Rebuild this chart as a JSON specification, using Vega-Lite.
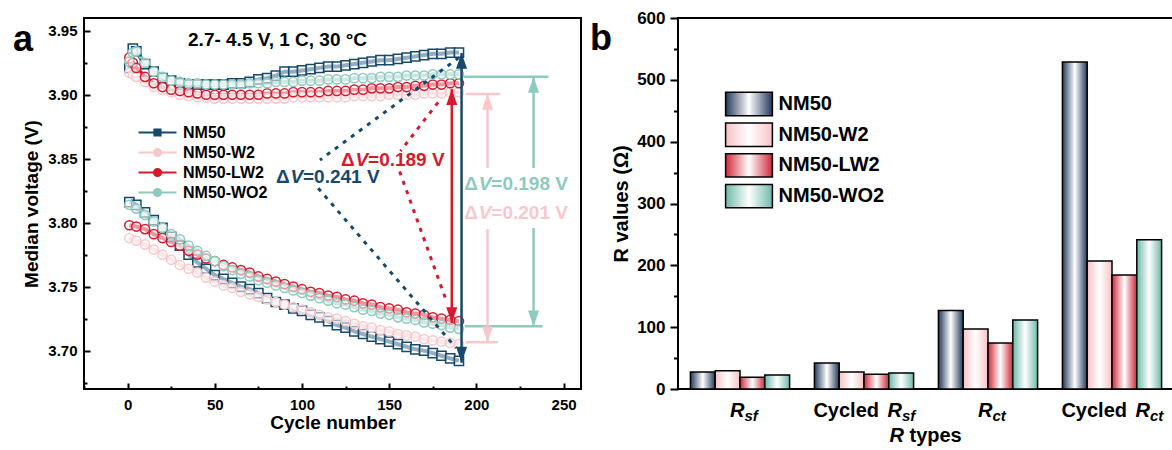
{
"$schema": "https://vega.github.io/schema/vega-lite/v6.json",
"padding": {"left": 11, "top": 8, "right": 0, "bottom": 0},
"bounds": "flush",
"spacing": 97,
"resolve": {"scale": {"fill": "independent", "stroke": "independent", "shape": "independent", "color": "independent"}, "legend": {"fill": "independent", "stroke": "independent", "shape": "independent"}},
"config": {
  "font": "Liberation Sans",
  "view": {"stroke": "black", "strokeWidth": 2},
  "axis": {"labelFontWeight": "bold", "titleFontWeight": "bold", "labelColor": "black", "titleColor": "black", "tickColor": "black", "grid": false, "domain": false},
  "legend": {"labelColor": "black"}
},
"datasets": {
"volt": [
{"s":"NM50","b":"u","c":1,"v":3.921},{"s":"NM50","b":"u","c":3,"v":3.936},{"s":"NM50","b":"u","c":5,"v":3.934},{"s":"NM50","b":"u","c":10,"v":3.924},{"s":"NM50","b":"u","c":15,"v":3.918},{"s":"NM50","b":"u","c":20,"v":3.913},{"s":"NM50","b":"u","c":25,"v":3.911},{"s":"NM50","b":"u","c":30,"v":3.909},{"s":"NM50","b":"u","c":35,"v":3.908},{"s":"NM50","b":"u","c":40,"v":3.908},{"s":"NM50","b":"u","c":45,"v":3.908},{"s":"NM50","b":"u","c":50,"v":3.908},{"s":"NM50","b":"u","c":55,"v":3.908},{"s":"NM50","b":"u","c":60,"v":3.909},{"s":"NM50","b":"u","c":65,"v":3.909},{"s":"NM50","b":"u","c":70,"v":3.910},{"s":"NM50","b":"u","c":75,"v":3.912},{"s":"NM50","b":"u","c":80,"v":3.913},{"s":"NM50","b":"u","c":85,"v":3.915},{"s":"NM50","b":"u","c":90,"v":3.918},{"s":"NM50","b":"u","c":95,"v":3.918},{"s":"NM50","b":"u","c":100,"v":3.919},{"s":"NM50","b":"u","c":105,"v":3.920},{"s":"NM50","b":"u","c":110,"v":3.921},{"s":"NM50","b":"u","c":115,"v":3.922},{"s":"NM50","b":"u","c":120,"v":3.922},{"s":"NM50","b":"u","c":125,"v":3.923},{"s":"NM50","b":"u","c":130,"v":3.924},{"s":"NM50","b":"u","c":135,"v":3.925},{"s":"NM50","b":"u","c":140,"v":3.926},{"s":"NM50","b":"u","c":145,"v":3.927},{"s":"NM50","b":"u","c":150,"v":3.927},{"s":"NM50","b":"u","c":155,"v":3.928},{"s":"NM50","b":"u","c":160,"v":3.929},{"s":"NM50","b":"u","c":165,"v":3.930},{"s":"NM50","b":"u","c":170,"v":3.931},{"s":"NM50","b":"u","c":175,"v":3.932},{"s":"NM50","b":"u","c":180,"v":3.932},{"s":"NM50","b":"u","c":185,"v":3.933},{"s":"NM50","b":"u","c":190,"v":3.933},
{"s":"NM50","b":"l","c":1,"v":3.816},{"s":"NM50","b":"l","c":5,"v":3.814},{"s":"NM50","b":"l","c":10,"v":3.808},{"s":"NM50","b":"l","c":15,"v":3.802},{"s":"NM50","b":"l","c":20,"v":3.796},{"s":"NM50","b":"l","c":25,"v":3.789},{"s":"NM50","b":"l","c":30,"v":3.782},{"s":"NM50","b":"l","c":35,"v":3.775},{"s":"NM50","b":"l","c":40,"v":3.769},{"s":"NM50","b":"l","c":45,"v":3.764},{"s":"NM50","b":"l","c":50,"v":3.759},{"s":"NM50","b":"l","c":55,"v":3.756},{"s":"NM50","b":"l","c":60,"v":3.753},{"s":"NM50","b":"l","c":65,"v":3.750},{"s":"NM50","b":"l","c":70,"v":3.748},{"s":"NM50","b":"l","c":75,"v":3.745},{"s":"NM50","b":"l","c":80,"v":3.741},{"s":"NM50","b":"l","c":85,"v":3.738},{"s":"NM50","b":"l","c":90,"v":3.736},{"s":"NM50","b":"l","c":95,"v":3.733},{"s":"NM50","b":"l","c":100,"v":3.731},{"s":"NM50","b":"l","c":105,"v":3.728},{"s":"NM50","b":"l","c":110,"v":3.726},{"s":"NM50","b":"l","c":115,"v":3.723},{"s":"NM50","b":"l","c":120,"v":3.720},{"s":"NM50","b":"l","c":125,"v":3.718},{"s":"NM50","b":"l","c":130,"v":3.715},{"s":"NM50","b":"l","c":135,"v":3.713},{"s":"NM50","b":"l","c":140,"v":3.711},{"s":"NM50","b":"l","c":145,"v":3.709},{"s":"NM50","b":"l","c":150,"v":3.707},{"s":"NM50","b":"l","c":155,"v":3.705},{"s":"NM50","b":"l","c":160,"v":3.703},{"s":"NM50","b":"l","c":165,"v":3.701},{"s":"NM50","b":"l","c":170,"v":3.700},{"s":"NM50","b":"l","c":175,"v":3.698},{"s":"NM50","b":"l","c":180,"v":3.696},{"s":"NM50","b":"l","c":185,"v":3.694},{"s":"NM50","b":"l","c":190,"v":3.692},
{"s":"NM50-W2","b":"u","c":1,"v":3.917},{"s":"NM50-W2","b":"u","c":3,"v":3.916},{"s":"NM50-W2","b":"u","c":5,"v":3.914},{"s":"NM50-W2","b":"u","c":10,"v":3.910},{"s":"NM50-W2","b":"u","c":15,"v":3.906},{"s":"NM50-W2","b":"u","c":20,"v":3.904},{"s":"NM50-W2","b":"u","c":25,"v":3.902},{"s":"NM50-W2","b":"u","c":30,"v":3.900},{"s":"NM50-W2","b":"u","c":35,"v":3.899},{"s":"NM50-W2","b":"u","c":40,"v":3.898},{"s":"NM50-W2","b":"u","c":45,"v":3.898},{"s":"NM50-W2","b":"u","c":50,"v":3.897},{"s":"NM50-W2","b":"u","c":55,"v":3.897},{"s":"NM50-W2","b":"u","c":60,"v":3.897},{"s":"NM50-W2","b":"u","c":65,"v":3.897},{"s":"NM50-W2","b":"u","c":70,"v":3.897},{"s":"NM50-W2","b":"u","c":75,"v":3.897},{"s":"NM50-W2","b":"u","c":80,"v":3.897},{"s":"NM50-W2","b":"u","c":85,"v":3.897},{"s":"NM50-W2","b":"u","c":90,"v":3.897},{"s":"NM50-W2","b":"u","c":95,"v":3.898},{"s":"NM50-W2","b":"u","c":100,"v":3.898},{"s":"NM50-W2","b":"u","c":105,"v":3.898},{"s":"NM50-W2","b":"u","c":110,"v":3.898},{"s":"NM50-W2","b":"u","c":115,"v":3.898},{"s":"NM50-W2","b":"u","c":120,"v":3.898},{"s":"NM50-W2","b":"u","c":125,"v":3.898},{"s":"NM50-W2","b":"u","c":130,"v":3.899},{"s":"NM50-W2","b":"u","c":135,"v":3.899},{"s":"NM50-W2","b":"u","c":140,"v":3.899},{"s":"NM50-W2","b":"u","c":145,"v":3.899},{"s":"NM50-W2","b":"u","c":150,"v":3.900},{"s":"NM50-W2","b":"u","c":155,"v":3.900},{"s":"NM50-W2","b":"u","c":160,"v":3.900},{"s":"NM50-W2","b":"u","c":165,"v":3.900},{"s":"NM50-W2","b":"u","c":170,"v":3.901},{"s":"NM50-W2","b":"u","c":175,"v":3.901},{"s":"NM50-W2","b":"u","c":180,"v":3.901},{"s":"NM50-W2","b":"u","c":185,"v":3.902},{"s":"NM50-W2","b":"u","c":190,"v":3.902},
{"s":"NM50-W2","b":"l","c":1,"v":3.788},{"s":"NM50-W2","b":"l","c":5,"v":3.786},{"s":"NM50-W2","b":"l","c":10,"v":3.783},{"s":"NM50-W2","b":"l","c":15,"v":3.779},{"s":"NM50-W2","b":"l","c":20,"v":3.775},{"s":"NM50-W2","b":"l","c":25,"v":3.771},{"s":"NM50-W2","b":"l","c":30,"v":3.767},{"s":"NM50-W2","b":"l","c":35,"v":3.764},{"s":"NM50-W2","b":"l","c":40,"v":3.761},{"s":"NM50-W2","b":"l","c":45,"v":3.757},{"s":"NM50-W2","b":"l","c":50,"v":3.754},{"s":"NM50-W2","b":"l","c":55,"v":3.751},{"s":"NM50-W2","b":"l","c":60,"v":3.749},{"s":"NM50-W2","b":"l","c":65,"v":3.746},{"s":"NM50-W2","b":"l","c":70,"v":3.744},{"s":"NM50-W2","b":"l","c":75,"v":3.742},{"s":"NM50-W2","b":"l","c":80,"v":3.740},{"s":"NM50-W2","b":"l","c":85,"v":3.738},{"s":"NM50-W2","b":"l","c":90,"v":3.736},{"s":"NM50-W2","b":"l","c":95,"v":3.734},{"s":"NM50-W2","b":"l","c":100,"v":3.732},{"s":"NM50-W2","b":"l","c":105,"v":3.730},{"s":"NM50-W2","b":"l","c":110,"v":3.728},{"s":"NM50-W2","b":"l","c":115,"v":3.726},{"s":"NM50-W2","b":"l","c":120,"v":3.725},{"s":"NM50-W2","b":"l","c":125,"v":3.723},{"s":"NM50-W2","b":"l","c":130,"v":3.721},{"s":"NM50-W2","b":"l","c":135,"v":3.719},{"s":"NM50-W2","b":"l","c":140,"v":3.718},{"s":"NM50-W2","b":"l","c":145,"v":3.716},{"s":"NM50-W2","b":"l","c":150,"v":3.715},{"s":"NM50-W2","b":"l","c":155,"v":3.713},{"s":"NM50-W2","b":"l","c":160,"v":3.712},{"s":"NM50-W2","b":"l","c":165,"v":3.711},{"s":"NM50-W2","b":"l","c":170,"v":3.709},{"s":"NM50-W2","b":"l","c":175,"v":3.708},{"s":"NM50-W2","b":"l","c":180,"v":3.707},{"s":"NM50-W2","b":"l","c":185,"v":3.706},{"s":"NM50-W2","b":"l","c":190,"v":3.705},
{"s":"NM50-LW2","b":"u","c":1,"v":3.929},{"s":"NM50-LW2","b":"u","c":3,"v":3.925},{"s":"NM50-LW2","b":"u","c":5,"v":3.921},{"s":"NM50-LW2","b":"u","c":10,"v":3.914},{"s":"NM50-LW2","b":"u","c":15,"v":3.909},{"s":"NM50-LW2","b":"u","c":20,"v":3.906},{"s":"NM50-LW2","b":"u","c":25,"v":3.904},{"s":"NM50-LW2","b":"u","c":30,"v":3.903},{"s":"NM50-LW2","b":"u","c":35,"v":3.902},{"s":"NM50-LW2","b":"u","c":40,"v":3.901},{"s":"NM50-LW2","b":"u","c":45,"v":3.900},{"s":"NM50-LW2","b":"u","c":50,"v":3.900},{"s":"NM50-LW2","b":"u","c":55,"v":3.900},{"s":"NM50-LW2","b":"u","c":60,"v":3.900},{"s":"NM50-LW2","b":"u","c":65,"v":3.900},{"s":"NM50-LW2","b":"u","c":70,"v":3.900},{"s":"NM50-LW2","b":"u","c":75,"v":3.900},{"s":"NM50-LW2","b":"u","c":80,"v":3.901},{"s":"NM50-LW2","b":"u","c":85,"v":3.901},{"s":"NM50-LW2","b":"u","c":90,"v":3.901},{"s":"NM50-LW2","b":"u","c":95,"v":3.902},{"s":"NM50-LW2","b":"u","c":100,"v":3.902},{"s":"NM50-LW2","b":"u","c":105,"v":3.902},{"s":"NM50-LW2","b":"u","c":110,"v":3.902},{"s":"NM50-LW2","b":"u","c":115,"v":3.903},{"s":"NM50-LW2","b":"u","c":120,"v":3.903},{"s":"NM50-LW2","b":"u","c":125,"v":3.903},{"s":"NM50-LW2","b":"u","c":130,"v":3.904},{"s":"NM50-LW2","b":"u","c":135,"v":3.904},{"s":"NM50-LW2","b":"u","c":140,"v":3.905},{"s":"NM50-LW2","b":"u","c":145,"v":3.905},{"s":"NM50-LW2","b":"u","c":150,"v":3.905},{"s":"NM50-LW2","b":"u","c":155,"v":3.906},{"s":"NM50-LW2","b":"u","c":160,"v":3.906},{"s":"NM50-LW2","b":"u","c":165,"v":3.907},{"s":"NM50-LW2","b":"u","c":170,"v":3.907},{"s":"NM50-LW2","b":"u","c":175,"v":3.908},{"s":"NM50-LW2","b":"u","c":180,"v":3.908},{"s":"NM50-LW2","b":"u","c":185,"v":3.909},{"s":"NM50-LW2","b":"u","c":190,"v":3.909},
{"s":"NM50-LW2","b":"l","c":1,"v":3.798},{"s":"NM50-LW2","b":"l","c":5,"v":3.797},{"s":"NM50-LW2","b":"l","c":10,"v":3.795},{"s":"NM50-LW2","b":"l","c":15,"v":3.791},{"s":"NM50-LW2","b":"l","c":20,"v":3.788},{"s":"NM50-LW2","b":"l","c":25,"v":3.785},{"s":"NM50-LW2","b":"l","c":30,"v":3.782},{"s":"NM50-LW2","b":"l","c":35,"v":3.778},{"s":"NM50-LW2","b":"l","c":40,"v":3.775},{"s":"NM50-LW2","b":"l","c":45,"v":3.772},{"s":"NM50-LW2","b":"l","c":50,"v":3.770},{"s":"NM50-LW2","b":"l","c":55,"v":3.767},{"s":"NM50-LW2","b":"l","c":60,"v":3.765},{"s":"NM50-LW2","b":"l","c":65,"v":3.763},{"s":"NM50-LW2","b":"l","c":70,"v":3.761},{"s":"NM50-LW2","b":"l","c":75,"v":3.758},{"s":"NM50-LW2","b":"l","c":80,"v":3.756},{"s":"NM50-LW2","b":"l","c":85,"v":3.754},{"s":"NM50-LW2","b":"l","c":90,"v":3.752},{"s":"NM50-LW2","b":"l","c":95,"v":3.750},{"s":"NM50-LW2","b":"l","c":100,"v":3.748},{"s":"NM50-LW2","b":"l","c":105,"v":3.746},{"s":"NM50-LW2","b":"l","c":110,"v":3.745},{"s":"NM50-LW2","b":"l","c":115,"v":3.743},{"s":"NM50-LW2","b":"l","c":120,"v":3.742},{"s":"NM50-LW2","b":"l","c":125,"v":3.740},{"s":"NM50-LW2","b":"l","c":130,"v":3.739},{"s":"NM50-LW2","b":"l","c":135,"v":3.737},{"s":"NM50-LW2","b":"l","c":140,"v":3.736},{"s":"NM50-LW2","b":"l","c":145,"v":3.734},{"s":"NM50-LW2","b":"l","c":150,"v":3.733},{"s":"NM50-LW2","b":"l","c":155,"v":3.732},{"s":"NM50-LW2","b":"l","c":160,"v":3.730},{"s":"NM50-LW2","b":"l","c":165,"v":3.729},{"s":"NM50-LW2","b":"l","c":170,"v":3.728},{"s":"NM50-LW2","b":"l","c":175,"v":3.726},{"s":"NM50-LW2","b":"l","c":180,"v":3.725},{"s":"NM50-LW2","b":"l","c":185,"v":3.724},{"s":"NM50-LW2","b":"l","c":190,"v":3.723},
{"s":"NM50-WO2","b":"u","c":1,"v":3.926},{"s":"NM50-WO2","b":"u","c":3,"v":3.933},{"s":"NM50-WO2","b":"u","c":5,"v":3.934},{"s":"NM50-WO2","b":"u","c":10,"v":3.925},{"s":"NM50-WO2","b":"u","c":15,"v":3.918},{"s":"NM50-WO2","b":"u","c":20,"v":3.914},{"s":"NM50-WO2","b":"u","c":25,"v":3.911},{"s":"NM50-WO2","b":"u","c":30,"v":3.910},{"s":"NM50-WO2","b":"u","c":35,"v":3.909},{"s":"NM50-WO2","b":"u","c":40,"v":3.909},{"s":"NM50-WO2","b":"u","c":45,"v":3.908},{"s":"NM50-WO2","b":"u","c":50,"v":3.908},{"s":"NM50-WO2","b":"u","c":55,"v":3.908},{"s":"NM50-WO2","b":"u","c":60,"v":3.908},{"s":"NM50-WO2","b":"u","c":65,"v":3.908},{"s":"NM50-WO2","b":"u","c":70,"v":3.909},{"s":"NM50-WO2","b":"u","c":75,"v":3.909},{"s":"NM50-WO2","b":"u","c":80,"v":3.909},{"s":"NM50-WO2","b":"u","c":85,"v":3.910},{"s":"NM50-WO2","b":"u","c":90,"v":3.910},{"s":"NM50-WO2","b":"u","c":95,"v":3.910},{"s":"NM50-WO2","b":"u","c":100,"v":3.911},{"s":"NM50-WO2","b":"u","c":105,"v":3.911},{"s":"NM50-WO2","b":"u","c":110,"v":3.911},{"s":"NM50-WO2","b":"u","c":115,"v":3.912},{"s":"NM50-WO2","b":"u","c":120,"v":3.912},{"s":"NM50-WO2","b":"u","c":125,"v":3.912},{"s":"NM50-WO2","b":"u","c":130,"v":3.913},{"s":"NM50-WO2","b":"u","c":135,"v":3.913},{"s":"NM50-WO2","b":"u","c":140,"v":3.913},{"s":"NM50-WO2","b":"u","c":145,"v":3.914},{"s":"NM50-WO2","b":"u","c":150,"v":3.914},{"s":"NM50-WO2","b":"u","c":155,"v":3.914},{"s":"NM50-WO2","b":"u","c":160,"v":3.915},{"s":"NM50-WO2","b":"u","c":165,"v":3.915},{"s":"NM50-WO2","b":"u","c":170,"v":3.915},{"s":"NM50-WO2","b":"u","c":175,"v":3.916},{"s":"NM50-WO2","b":"u","c":180,"v":3.916},{"s":"NM50-WO2","b":"u","c":185,"v":3.916},{"s":"NM50-WO2","b":"u","c":190,"v":3.916},
{"s":"NM50-WO2","b":"l","c":1,"v":3.814},{"s":"NM50-WO2","b":"l","c":5,"v":3.811},{"s":"NM50-WO2","b":"l","c":10,"v":3.806},{"s":"NM50-WO2","b":"l","c":15,"v":3.801},{"s":"NM50-WO2","b":"l","c":20,"v":3.796},{"s":"NM50-WO2","b":"l","c":25,"v":3.791},{"s":"NM50-WO2","b":"l","c":30,"v":3.787},{"s":"NM50-WO2","b":"l","c":35,"v":3.782},{"s":"NM50-WO2","b":"l","c":40,"v":3.778},{"s":"NM50-WO2","b":"l","c":45,"v":3.774},{"s":"NM50-WO2","b":"l","c":50,"v":3.770},{"s":"NM50-WO2","b":"l","c":55,"v":3.766},{"s":"NM50-WO2","b":"l","c":60,"v":3.763},{"s":"NM50-WO2","b":"l","c":65,"v":3.760},{"s":"NM50-WO2","b":"l","c":70,"v":3.758},{"s":"NM50-WO2","b":"l","c":75,"v":3.755},{"s":"NM50-WO2","b":"l","c":80,"v":3.753},{"s":"NM50-WO2","b":"l","c":85,"v":3.751},{"s":"NM50-WO2","b":"l","c":90,"v":3.749},{"s":"NM50-WO2","b":"l","c":95,"v":3.747},{"s":"NM50-WO2","b":"l","c":100,"v":3.745},{"s":"NM50-WO2","b":"l","c":105,"v":3.743},{"s":"NM50-WO2","b":"l","c":110,"v":3.741},{"s":"NM50-WO2","b":"l","c":115,"v":3.739},{"s":"NM50-WO2","b":"l","c":120,"v":3.737},{"s":"NM50-WO2","b":"l","c":125,"v":3.736},{"s":"NM50-WO2","b":"l","c":130,"v":3.734},{"s":"NM50-WO2","b":"l","c":135,"v":3.732},{"s":"NM50-WO2","b":"l","c":140,"v":3.731},{"s":"NM50-WO2","b":"l","c":145,"v":3.729},{"s":"NM50-WO2","b":"l","c":150,"v":3.728},{"s":"NM50-WO2","b":"l","c":155,"v":3.726},{"s":"NM50-WO2","b":"l","c":160,"v":3.725},{"s":"NM50-WO2","b":"l","c":165,"v":3.724},{"s":"NM50-WO2","b":"l","c":170,"v":3.722},{"s":"NM50-WO2","b":"l","c":175,"v":3.721},{"s":"NM50-WO2","b":"l","c":180,"v":3.720},{"s":"NM50-WO2","b":"l","c":185,"v":3.718},{"s":"NM50-WO2","b":"l","c":190,"v":3.717}
],
"dots": [
{"s":"NM50","c":190,"v":3.929,"c2":110.3,"v2":3.849},
{"s":"NM50","c":109.3,"v":3.827,"c2":188.4,"v2":3.702},
{"s":"NM50-LW2","c":178,"v":3.894,"c2":156.5,"v2":3.856},
{"s":"NM50-LW2","c":156,"v":3.840,"c2":182.5,"v2":3.740}
],
"rules": [
{"s":"NM50-LW2","c":185.9,"v":3.9044,"c2":185.9,"v2":3.7216},
{"s":"NM50","c":191.5,"v":3.9326,"c2":191.5,"v2":3.6906},
{"s":"NM50-WO2","c":192.7,"v":3.914,"c2":241.3,"v2":3.914},
{"s":"NM50-WO2","c":193.3,"v":3.719,"c2":238,"v2":3.719},
{"s":"NM50-WO2","c":232.8,"v":3.914,"c2":232.8,"v2":3.8427},
{"s":"NM50-WO2","c":232.8,"v":3.7959,"c2":232.8,"v2":3.719},
{"s":"NM50-W2","c":193.8,"v":3.9006,"c2":213.5,"v2":3.9006},
{"s":"NM50-W2","c":193.8,"v":3.7065,"c2":212.4,"v2":3.7065},
{"s":"NM50-W2","c":206.4,"v":3.9006,"c2":206.4,"v2":3.8427},
{"s":"NM50-W2","c":206.4,"v":3.795,"c2":206.4,"v2":3.7065}
],
"heads": [
{"s":"NM50-LW2","c":185.9,"v":3.9044,"d":"up"},{"s":"NM50-LW2","c":185.9,"v":3.7216,"d":"down"},
{"s":"NM50","c":191.5,"v":3.9326,"d":"up"},{"s":"NM50","c":191.5,"v":3.6906,"d":"down"},
{"s":"NM50-WO2","c":232.8,"v":3.914,"d":"up"},{"s":"NM50-WO2","c":232.8,"v":3.719,"d":"down"},
{"s":"NM50-W2","c":206.4,"v":3.9006,"d":"up"},{"s":"NM50-W2","c":206.4,"v":3.7065,"d":"down"}
],
"dv": [
{"s":"NM50","c":85.1,"v":3.8313,"t":"=0.241 V"},
{"s":"NM50-LW2","c":122.4,"v":3.844,"t":"=0.189 V"},
{"s":"NM50-WO2","c":193.1,"v":3.8252,"t":"=0.198 V"},
{"s":"NM50-W2","c":193.1,"v":3.8029,"t":"=0.201 V"}
],
"bars": [
{"t":"Rsf","s":"NM50","r":27.5},{"t":"Rsf","s":"NM50-W2","r":29.6},{"t":"Rsf","s":"NM50-LW2","r":18.9},{"t":"Rsf","s":"NM50-WO2","r":22.6},
{"t":"cRsf","s":"NM50","r":42},{"t":"cRsf","s":"NM50-W2","r":27.5},{"t":"cRsf","s":"NM50-LW2","r":23.7},{"t":"cRsf","s":"NM50-WO2","r":25.9},
{"t":"Rct","s":"NM50","r":127},{"t":"Rct","s":"NM50-W2","r":97},{"t":"Rct","s":"NM50-LW2","r":74.4},{"t":"Rct","s":"NM50-WO2","r":111.6},
{"t":"cRct","s":"NM50","r":528.8},{"t":"cRct","s":"NM50-W2","r":207},{"t":"cRct","s":"NM50-LW2","r":184.4},{"t":"cRct","s":"NM50-WO2","r":241.5}
],
"labs": [
{"t":"Rsf","pre":"","sub":"sf"},{"t":"cRsf","pre":"Cycled","sub":"sf"},{"t":"Rct","pre":"","sub":"ct"},{"t":"cRct","pre":"Cycled","sub":"ct"}
]
},
"hconcat": [
{
"width": 497, "height": 371,
"resolve": {"scale": {"shape": "independent"}, "axis": {"x": "independent", "y": "independent"}},
"layer": [
{"data": {"name": "volt"}, "mark": {"type": "line", "strokeWidth": 4},
 "encoding": {
  "x": {"field": "c", "type": "quantitative", "scale": {"domain": [-25, 260], "nice": false, "zero": false},
        "axis": {"orient": "bottom", "values": [0, 50, 100, 150, 200, 250], "tickSize": -6, "tickWidth": 2, "labelPadding": 14, "labelFontSize": 15, "title": "Cycle number", "titleFontSize": 19, "titlePadding": 1}},
  "y": {"field": "v", "type": "quantitative", "scale": {"domain": [3.67, 3.96], "nice": false, "zero": false},
        "axis": {"orient": "left", "values": [3.7, 3.75, 3.8, 3.85, 3.9, 3.95], "format": ".2f", "tickSize": -6, "tickWidth": 2, "labelPadding": 13, "labelFontSize": 15, "title": "Median voltage (V)", "titleFontSize": 19, "titlePadding": 6}},
  "stroke": {"field": "s", "type": "nominal", "scale": {"domain": ["NM50", "NM50-W2", "NM50-LW2", "NM50-WO2"], "range": ["#16496e", "#f8c8cb", "#d7192d", "#8ecabd"]},
    "legend": {"orient": "none", "legendX": 62, "legendY": 103, "title": null, "symbolSize": 400, "labelFontSize": 16, "labelFontWeight": "bold", "labelOffset": 14, "rowPadding": 0, "padding": 0,
      "encode": {"symbols": {"update": {"shape": {"signal": "datum.value === 'NM50' ? 'M-1.9,0H1.9M-0.3,-0.3H0.3V0.3H-0.3Z' : 'M-1.9,0H1.9M-0.35,0A0.35,0.35,0,1,1,0.35,0A0.35,0.35,0,1,1,-0.35,0Z'"}, "fill": {"value": "white"}, "strokeWidth": {"value": 2.2}, "opacity": {"value": 1}}}}}},
  "detail": {"field": "b"}
 }},
{"data": {"name": "volt"}, "mark": {"type": "point", "filled": true, "fill": "white", "fillOpacity": 0.55, "strokeWidth": 1.5, "size": 85, "opacity": 1},
 "encoding": {
  "x": {"field": "c", "type": "quantitative", "scale": {"domain": [-25, 260], "nice": false, "zero": false},
        "axis": {"orient": "bottom", "values": [-25, 25, 75, 125, 175, 225], "tickSize": -3, "tickWidth": 2, "labels": false, "title": null}},
  "y": {"field": "v", "type": "quantitative", "scale": {"domain": [3.67, 3.96], "nice": false, "zero": false},
        "axis": {"orient": "left", "values": [3.675, 3.725, 3.775, 3.825, 3.875, 3.925], "tickSize": -3, "tickWidth": 2, "labels": false, "title": null}},
  "stroke": {"field": "s", "type": "nominal", "scale": {"domain": ["NM50", "NM50-W2", "NM50-LW2", "NM50-WO2"], "range": ["#16496e", "#f8c8cb", "#d7192d", "#8ecabd"]}},
  "shape": {"field": "s", "type": "nominal", "scale": {"domain": ["NM50", "NM50-W2", "NM50-LW2", "NM50-WO2"], "range": ["square", "circle", "circle", "circle"]}, "legend": null}
 }},
{"data": {"name": "dots"}, "mark": {"type": "rule", "strokeDash": [4, 6], "strokeWidth": 3},
 "encoding": {
  "x": {"field": "c", "type": "quantitative", "scale": {"domain": [-25, 260], "nice": false, "zero": false}, "axis": null},
  "y": {"field": "v", "type": "quantitative", "scale": {"domain": [3.67, 3.96], "nice": false, "zero": false}, "axis": null},
  "x2": {"field": "c2"}, "y2": {"field": "v2"},
  "stroke": {"field": "s", "type": "nominal", "scale": {"domain": ["NM50", "NM50-W2", "NM50-LW2", "NM50-WO2"], "range": ["#16496e", "#f8c8cb", "#d7192d", "#8ecabd"]}, "legend": null}
 }},
{"data": {"name": "rules"}, "mark": {"type": "rule", "strokeWidth": 2.5},
 "encoding": {
  "x": {"field": "c", "type": "quantitative", "scale": {"domain": [-25, 260], "nice": false, "zero": false}, "axis": null},
  "y": {"field": "v", "type": "quantitative", "scale": {"domain": [3.67, 3.96], "nice": false, "zero": false}, "axis": null},
  "x2": {"field": "c2"}, "y2": {"field": "v2"},
  "stroke": {"field": "s", "type": "nominal", "scale": {"domain": ["NM50", "NM50-W2", "NM50-LW2", "NM50-WO2"], "range": ["#16496e", "#f8c8cb", "#d7192d", "#8ecabd"]}, "legend": null}
 }},
{"data": {"name": "heads"}, "mark": {"type": "point", "filled": true, "opacity": 1, "size": 1000, "strokeWidth": 0},
 "encoding": {
  "x": {"field": "c", "type": "quantitative", "scale": {"domain": [-25, 260], "nice": false, "zero": false}, "axis": null},
  "y": {"field": "v", "type": "quantitative", "scale": {"domain": [3.67, 3.96], "nice": false, "zero": false}, "axis": null},
  "fill": {"field": "s", "type": "nominal", "scale": {"domain": ["NM50", "NM50-W2", "NM50-LW2", "NM50-WO2"], "range": ["#16496e", "#f8c8cb", "#d7192d", "#8ecabd"]}, "legend": null},
  "shape": {"field": "d", "type": "nominal", "scale": {"domain": ["up", "down"], "range": ["M0,0L-0.35,1L0.35,1Z", "M0,0L-0.35,-1L0.35,-1Z"]}, "legend": null}
 }},
{"data": {"name": "dv"}, "mark": {"type": "text", "align": "left", "baseline": "alphabetic", "fontSize": 19, "fontWeight": "bold"},
 "encoding": {
  "x": {"field": "c", "type": "quantitative", "scale": {"domain": [-25, 260], "nice": false, "zero": false}, "axis": null},
  "y": {"field": "v", "type": "quantitative", "scale": {"domain": [3.67, 3.96], "nice": false, "zero": false}, "axis": null},
  "fill": {"field": "s", "type": "nominal", "scale": {"domain": ["NM50", "NM50-W2", "NM50-LW2", "NM50-WO2"], "range": ["#16496e", "#f8c8cb", "#d7192d", "#8ecabd"]}, "legend": null},
  "text": {"value": "Δ"}
 }},
{"data": {"name": "dv"}, "mark": {"type": "text", "align": "left", "baseline": "alphabetic", "fontSize": 19, "fontWeight": "bold", "fontStyle": "italic", "dx": 14.5},
 "encoding": {
  "x": {"field": "c", "type": "quantitative", "scale": {"domain": [-25, 260], "nice": false, "zero": false}, "axis": null},
  "y": {"field": "v", "type": "quantitative", "scale": {"domain": [3.67, 3.96], "nice": false, "zero": false}, "axis": null},
  "fill": {"field": "s", "type": "nominal", "scale": {"domain": ["NM50", "NM50-W2", "NM50-LW2", "NM50-WO2"], "range": ["#16496e", "#f8c8cb", "#d7192d", "#8ecabd"]}, "legend": null},
  "text": {"value": "V"}
 }},
{"data": {"name": "dv"}, "mark": {"type": "text", "align": "left", "baseline": "alphabetic", "fontSize": 19, "fontWeight": "bold", "dx": 27},
 "encoding": {
  "x": {"field": "c", "type": "quantitative", "scale": {"domain": [-25, 260], "nice": false, "zero": false}, "axis": null},
  "y": {"field": "v", "type": "quantitative", "scale": {"domain": [3.67, 3.96], "nice": false, "zero": false}, "axis": null},
  "fill": {"field": "s", "type": "nominal", "scale": {"domain": ["NM50", "NM50-W2", "NM50-LW2", "NM50-WO2"], "range": ["#16496e", "#f8c8cb", "#d7192d", "#8ecabd"]}, "legend": null},
  "text": {"field": "t"}
 }},
{"data": {"values": [{}]}, "mark": {"type": "text", "align": "center", "baseline": "alphabetic", "fontSize": 19, "fontWeight": "bold", "color": "black"},
 "encoding": {
  "x": {"datum": 86, "type": "quantitative", "scale": {"domain": [-25, 260], "nice": false, "zero": false}, "axis": null},
  "y": {"datum": 3.938, "type": "quantitative", "scale": {"domain": [3.67, 3.96], "nice": false, "zero": false}, "axis": null},
  "text": {"value": "2.7- 4.5 V, 1 C, 30 °C"}
 }},
{"data": {"values": [{}]}, "mark": {"type": "text", "align": "center", "baseline": "alphabetic", "fontSize": 36, "fontWeight": "bold", "color": "black"},
 "encoding": {
  "x": {"datum": -60, "type": "quantitative", "scale": {"domain": [-25, 260], "nice": false, "zero": false}, "axis": null},
  "y": {"datum": 3.934, "type": "quantitative", "scale": {"domain": [3.67, 3.96], "nice": false, "zero": false}, "axis": null},
  "text": {"value": "a"}
 }}
]
},
{
"width": 496, "height": 371,
"resolve": {"axis": {"y": "independent"}},
"layer": [
{"data": {"name": "bars"},
 "mark": {"type": "bar", "stroke": "black", "strokeWidth": 1.5},
 "encoding": {
  "x": {"field": "t", "type": "nominal", "scale": {"domain": ["Rsf", "cRsf", "Rct", "cRct"], "paddingInner": 0.2, "paddingOuter": 0.1},
        "axis": {"orient": "bottom", "labels": false, "title": null, "tickSize": 8, "tickWidth": 2}},
  "xOffset": {"field": "s", "type": "nominal", "scale": {"domain": ["NM50", "NM50-W2", "NM50-LW2", "NM50-WO2"], "paddingInner": 0, "paddingOuter": 0}},
  "y": {"field": "r", "type": "quantitative", "scale": {"domain": [0, 600], "nice": false},
        "axis": {"orient": "left", "values": [0, 100, 200, 300, 400, 500, 600], "tickSize": 8, "tickWidth": 2, "labelPadding": 5, "labelFontSize": 17, "title": "R values (Ω)", "titleFontSize": 20, "titlePadding": 5}},
  "fill": {"field": "s", "type": "nominal", "scale": {"domain": ["NM50", "NM50-W2", "NM50-LW2", "NM50-WO2"], "range": [
      {"expr": "{id: 'gradNM50', gradient: 'linear', x1: 0, y1: 0, x2: 1, y2: 0, stops: [{offset: 0, color: '#22385a'}, {offset: 0.5, color: '#ffffff'}, {offset: 1, color: '#22385a'}]}"},
      {"expr": "{id: 'gradW2', gradient: 'linear', x1: 0, y1: 0, x2: 1, y2: 0, stops: [{offset: 0, color: '#f6c3c6'}, {offset: 0.5, color: '#ffffff'}, {offset: 1, color: '#f6c3c6'}]}"},
      {"expr": "{id: 'gradLW2', gradient: 'linear', x1: 0, y1: 0, x2: 1, y2: 0, stops: [{offset: 0, color: '#d0283a'}, {offset: 0.5, color: '#ffffff'}, {offset: 1, color: '#d0283a'}]}"},
      {"expr": "{id: 'gradWO2', gradient: 'linear', x1: 0, y1: 0, x2: 1, y2: 0, stops: [{offset: 0, color: '#6fb9ab'}, {offset: 0.5, color: '#ffffff'}, {offset: 1, color: '#6fb9ab'}]}"}
    ]},
    "legend": {"orient": "none", "legendX": 57, "legendY": 72, "title": null, "symbolSize": 676, "symbolType": "M-1.8,-0.9H1.8V0.9H-1.8Z", "symbolStrokeColor": "black", "symbolStrokeWidth": 1.5, "symbolOpacity": 1, "labelFontSize": 20, "labelFontWeight": "bold", "labelOffset": 15.6, "rowPadding": 0.7, "padding": 0}}
 }},
{"data": {"name": "labs"}, "transform": [{"filter": "datum.pre !== ''"}], "mark": {"type": "text", "align": "right", "baseline": "alphabetic", "fontSize": 20, "fontWeight": "bold", "dx": 15, "color": "black"},
 "encoding": {
  "x": {"field": "t", "type": "nominal", "scale": {"domain": ["Rsf", "cRsf", "Rct", "cRct"], "paddingInner": 0.2, "paddingOuter": 0.1}, "axis": null},
  "y": {"datum": -45, "type": "quantitative", "scale": {"domain": [0, 600], "nice": false},
        "axis": {"orient": "left", "values": [50, 150, 250, 350, 450, 550], "tickSize": 4.5, "tickWidth": 2, "labels": false, "title": null}},
  "text": {"field": "pre"}
 }},
{"data": {"name": "labs"}, "transform": [{"filter": "datum.pre !== ''"}], "mark": {"type": "text", "align": "left", "baseline": "alphabetic", "fontSize": 20, "fontWeight": "bold", "fontStyle": "italic", "dx": 23.5, "color": "black"},
 "encoding": {
  "x": {"field": "t", "type": "nominal", "scale": {"domain": ["Rsf", "cRsf", "Rct", "cRct"], "paddingInner": 0.2, "paddingOuter": 0.1}, "axis": null},
  "y": {"datum": -45, "type": "quantitative", "scale": {"domain": [0, 600], "nice": false}, "axis": null},
  "text": {"value": "R"}
 }},
{"data": {"name": "labs"}, "transform": [{"filter": "datum.pre !== ''"}], "mark": {"type": "text", "align": "left", "baseline": "alphabetic", "fontSize": 15, "fontWeight": "bold", "fontStyle": "italic", "dx": 38, "dy": 4, "color": "black"},
 "encoding": {
  "x": {"field": "t", "type": "nominal", "scale": {"domain": ["Rsf", "cRsf", "Rct", "cRct"], "paddingInner": 0.2, "paddingOuter": 0.1}, "axis": null},
  "y": {"datum": -45, "type": "quantitative", "scale": {"domain": [0, 600], "nice": false}, "axis": null},
  "text": {"field": "sub"}
 }},
{"data": {"name": "labs"}, "transform": [{"filter": "datum.pre === ''"}], "mark": {"type": "text", "align": "left", "baseline": "alphabetic", "fontSize": 20, "fontWeight": "bold", "fontStyle": "italic", "dx": -10, "color": "black"},
 "encoding": {
  "x": {"field": "t", "type": "nominal", "scale": {"domain": ["Rsf", "cRsf", "Rct", "cRct"], "paddingInner": 0.2, "paddingOuter": 0.1}, "axis": null},
  "y": {"datum": -45, "type": "quantitative", "scale": {"domain": [0, 600], "nice": false}, "axis": null},
  "text": {"value": "R"}
 }},
{"data": {"name": "labs"}, "transform": [{"filter": "datum.pre === ''"}], "mark": {"type": "text", "align": "left", "baseline": "alphabetic", "fontSize": 15, "fontWeight": "bold", "fontStyle": "italic", "dx": 4.5, "dy": 4, "color": "black"},
 "encoding": {
  "x": {"field": "t", "type": "nominal", "scale": {"domain": ["Rsf", "cRsf", "Rct", "cRct"], "paddingInner": 0.2, "paddingOuter": 0.1}, "axis": null},
  "y": {"datum": -45, "type": "quantitative", "scale": {"domain": [0, 600], "nice": false}, "axis": null},
  "text": {"field": "sub"}
 }},
{"data": {"values": [{}]}, "mark": {"type": "text", "align": "left", "baseline": "alphabetic", "fontSize": 20, "fontWeight": "bold", "fontStyle": "italic", "dx": 25.5, "color": "black"},
 "encoding": {
  "x": {"datum": "cRsf", "type": "nominal", "scale": {"domain": ["Rsf", "cRsf", "Rct", "cRct"], "paddingInner": 0.2, "paddingOuter": 0.1}, "axis": null},
  "y": {"datum": -85, "type": "quantitative", "scale": {"domain": [0, 600], "nice": false}, "axis": null},
  "text": {"value": "R"}
 }},
{"data": {"values": [{}]}, "mark": {"type": "text", "align": "left", "baseline": "alphabetic", "fontSize": 20, "fontWeight": "bold", "dx": 45.5, "color": "black"},
 "encoding": {
  "x": {"datum": "cRsf", "type": "nominal", "scale": {"domain": ["Rsf", "cRsf", "Rct", "cRct"], "paddingInner": 0.2, "paddingOuter": 0.1}, "axis": null},
  "y": {"datum": -85, "type": "quantitative", "scale": {"domain": [0, 600], "nice": false}, "axis": null},
  "text": {"value": "types"}
 }},
{"data": {"values": [{}]}, "mark": {"type": "text", "align": "center", "baseline": "alphabetic", "fontSize": 36, "fontWeight": "bold", "dx": -139, "color": "black"},
 "encoding": {
  "x": {"datum": "Rsf", "type": "nominal", "scale": {"domain": ["Rsf", "cRsf", "Rct", "cRct"], "paddingInner": 0.2, "paddingOuter": 0.1}, "axis": null},
  "y": {"datum": 548, "type": "quantitative", "scale": {"domain": [0, 600], "nice": false}, "axis": null},
  "text": {"value": "b"}
 }}
]
}
]
}
